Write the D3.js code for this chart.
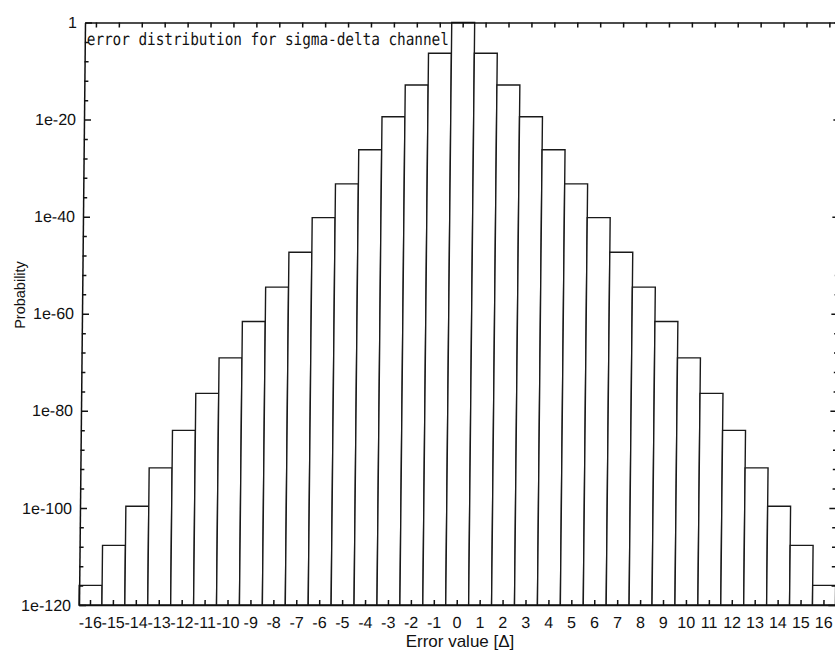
<!DOCTYPE html>
<html>
<head>
<meta charset="utf-8">
<script src="https://cdn.jsdelivr.net/npm/d3@7/dist/d3.min.js"></script>
<style>
  body { margin: 0; background: #fff; }
  svg { display: block; }
  .axis text { font-family: "Liberation Sans", Arial, sans-serif; font-size: 16px; fill: #111; }
  .axis line, .axis path { stroke: #111; stroke-width: 1.5; }
</style>
</head>
<body>
<svg id="chart" width="835" height="650"></svg>
<script>
// Error value of each histogram bin (in units of the quantiser step)
const errorValues = [-16, -15, -14, -13, -12, -11, -10, -9, -8, -7, -6, -5, -4, -3, -2, -1,
                      0, 1, 2, 3, 4, 5, 6, 7, 8, 9, 10, 11, 12, 13, 14, 15, 16];

// Probability of each error value
const probability = [
  1.1e-116, 1.9e-108, 2.2e-100, 1.8e-92, 9.3e-85, 3.9e-77, 8.3e-70, 2.5e-62,
  3.0e-55, 4.8e-48, 6.2e-41, 5.6e-34, 6.3e-27, 3.9e-20, 1.3e-13, 4.5e-7,
  1,
  4.5e-7, 1.3e-13, 3.9e-20, 6.3e-27, 5.6e-34, 6.2e-41, 4.8e-48, 3.0e-55,
  2.5e-62, 8.3e-70, 3.9e-77, 9.3e-85, 1.8e-92, 2.2e-100, 1.9e-108, 1.1e-116
];

// Labelled ticks on the logarithmic probability axis
const yTickValues = [1, 1e-20, 1e-40, 1e-60, 1e-80, 1e-100, 1e-120];
const yTickLabels = ["1", "1e-20", "1e-40", "1e-60", "1e-80", "1e-100", "1e-120"];

const chartTitle = "error distribution for sigma-delta channel";
const xTitle = "Error value [\u0394]";
const yTitle = "Probability";

const bins = errorValues.map((e, i) => ({ e, p: probability[i] }));

const svg = d3.select("#chart");

const plotLeft = 82, plotRight = 838.4, plotTop = 22.5, plotBottom = 605;

const x = d3.scaleBand().domain(errorValues).range([plotLeft, plotRight]).padding(0);
const y = d3.scaleLog().domain([1e-120, 1]).range([plotBottom, plotTop]);

// minor ticks every 4 decades between the labelled ones
const minorTicks = d3.range(0, 121, 4)
  .filter(k => k % 20 !== 0)
  .map(k => Math.pow(10, -k));

// the plot is drawn with a slight horizontal shear
const shear = 6 / (plotBottom - plotTop);
const midY = (plotTop + plotBottom) / 2;
const g = svg.append("g")
  .attr("transform", `translate(${shear * midY},0) skewX(${-Math.atan(shear) * 180 / Math.PI})`);

// bars
g.append("g").selectAll("rect")
  .data(bins)
  .join("rect")
  .attr("x", d => x(d.e))
  .attr("y", d => y(d.p))
  .attr("width", x.bandwidth())
  .attr("height", d => y(1e-120) - y(d.p))
  .attr("fill", "#fff")
  .attr("stroke", "#1a1a1a")
  .attr("stroke-width", 1.4);

// bottom axis with labels
g.append("g")
  .attr("class", "axis")
  .attr("transform", `translate(0,${plotBottom})`)
  .call(d3.axisBottom(x).tickSizeInner(-5).tickSizeOuter(0).tickPadding(11.5)
    .tickFormat(d => String(d)));

// top axis
g.append("g")
  .attr("class", "axis")
  .attr("transform", `translate(0,${plotTop})`)
  .call(d3.axisTop(x).tickSizeInner(-5).tickSizeOuter(0).tickFormat(""));

// left axis
g.append("g")
  .attr("class", "axis")
  .attr("transform", `translate(${plotLeft},0)`)
  .call(d3.axisLeft(y).tickValues(yTickValues).tickSizeInner(-7).tickSizeOuter(0).tickPadding(8)
    .tickFormat((d, i) => yTickLabels[i]));

g.append("g")
  .attr("class", "axis")
  .attr("transform", `translate(${plotLeft},0)`)
  .call(d3.axisLeft(y).tickValues(minorTicks).tickSizeInner(-4).tickSizeOuter(0).tickFormat(""))
  .call(a => a.select(".domain").remove());

// right axis
g.append("g")
  .attr("class", "axis")
  .attr("transform", `translate(${plotRight},0)`)
  .call(d3.axisRight(y).tickValues(yTickValues).tickSizeInner(-7).tickSizeOuter(0).tickFormat(""));

g.append("g")
  .attr("class", "axis")
  .attr("transform", `translate(${plotRight},0)`)
  .call(d3.axisRight(y).tickValues(minorTicks).tickSizeInner(-4).tickSizeOuter(0).tickFormat(""))
  .call(a => a.select(".domain").remove());

// caption inside the plot
g.append("text")
  .attr("x", plotLeft + 2)
  .attr("y", 45)
  .attr("font-family", "'DejaVu Sans Mono', 'Liberation Mono', monospace")
  .attr("font-size", 17)
  .attr("textLength", 362)
  .attr("lengthAdjust", "spacingAndGlyphs")
  .attr("fill", "#111")
  .text(chartTitle);

// axis titles
svg.append("text")
  .attr("x", 460)
  .attr("y", 647)
  .attr("text-anchor", "middle")
  .attr("font-family", "'Liberation Sans', Arial, sans-serif")
  .attr("font-size", 17)
  .attr("fill", "#111")
  .text(xTitle);

svg.append("text")
  .attr("transform", "translate(25,295) rotate(-90)")
  .attr("text-anchor", "middle")
  .attr("font-family", "'Liberation Sans', Arial, sans-serif")
  .attr("font-size", 14.5)
  .attr("fill", "#111")
  .text(yTitle);
</script>
</body>
</html>
